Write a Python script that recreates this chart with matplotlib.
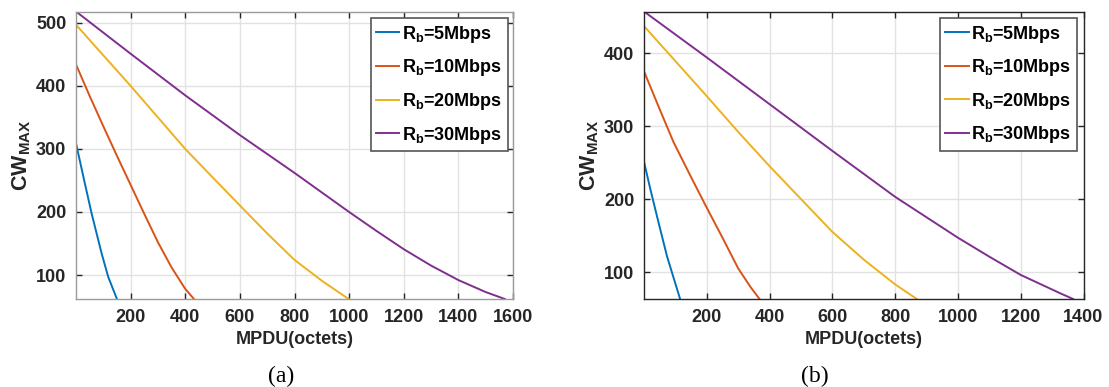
import numpy as np
import matplotlib.pyplot as plt

plt.rcParams['font.family'] = 'Liberation Sans'
plt.rcParams['font.weight'] = 'bold'
plt.rcParams['mathtext.fontset'] = 'custom'
plt.rcParams['mathtext.rm'] = 'Liberation Sans:bold'
plt.rcParams['mathtext.it'] = 'Liberation Sans:bold'
plt.rcParams['mathtext.bf'] = 'Liberation Sans:bold'

labels = [r'$\mathrm{R_b}$=5Mbps', r'$\mathrm{R_b}$=10Mbps',
          r'$\mathrm{R_b}$=20Mbps', r'$\mathrm{R_b}$=30Mbps']
colors = ['#0072BD', '#D95319', '#EDB120', '#7E2F8E']

# (a) values
a5_x = [0, 30, 57, 94, 118, 149]
a5_y = [309, 250, 198, 134, 97, 63]
a10_x = [0, 50, 100, 150, 200, 250, 300, 350, 400, 432]
a10_y = [434, 384, 336, 289, 243, 197, 152, 112, 78, 62]
a20_x = [0, 200, 400, 500, 639, 700, 800, 900, 998]
a20_y = [497, 400, 300, 255, 193, 166, 124, 91, 62]
a30_x = [0, 200, 400, 600, 800, 1000, 1100, 1200, 1300, 1400, 1500, 1570]
a30_y = [518, 451, 385, 322, 262, 200, 170, 141, 115, 92, 73, 62]

# (b) values
b5_x = [0, 20, 41, 73, 95, 115]
b5_y = [251, 214, 177, 122, 91, 63]
b10_x = [0, 50, 94, 150, 200, 250, 300, 340, 368]
b10_y = [375, 323, 278, 230, 188, 147, 105, 79, 63]
b20_x = [0, 200, 300, 400, 500, 600, 700, 800, 869]
b20_y = [437, 341, 292, 245, 200, 155, 117, 83, 63]
b30_x = [0, 200, 400, 600, 800, 900, 1000, 1100, 1200, 1325, 1367]
b30_y = [457, 394, 330, 266, 203, 175, 147, 121, 96, 71, 63]

fig = plt.figure(figsize=(11.09, 3.87), dpi=100)
ax1 = fig.add_axes([76/1109, 88/387, 437/1109, 287.5/387])
ax2 = fig.add_axes([644/1109, 88/387, 439.5/1109, 287.5/387])

panels = [
    (ax1, [(a5_x, a5_y), (a10_x, a10_y), (a20_x, a20_y), (a30_x, a30_y)],
     1600, range(200, 1601, 200), range(100, 501, 100), '#9a9a9a', (0.988, 0.976)),
    (ax2, [(b5_x, b5_y), (b10_x, b10_y), (b20_x, b20_y), (b30_x, b30_y)],
     1400, range(200, 1401, 200), range(100, 401, 100), '#262626', (0.985, 0.977)),
]

for ax, series, xmax, xt, yt, spc, anchor in panels:
    for (x, y), c, lab in zip(series, colors, labels):
        ax.plot(x, y, color=c, lw=1.4, label=lab)
    ally = np.concatenate([s[1] for s in series])
    ax.set_xlim(0, xmax)
    ax.set_ylim(ally.min(), ally.max())
    ax.set_xticks(list(xt))
    ax.set_yticks(list(yt))
    ax.grid(True, color='#e2e2e2', lw=1)
    ax.set_axisbelow(True)
    ax.tick_params(direction='in', top=True, right=True, length=4, width=1,
                   color='#262626', labelsize=13, labelcolor='#262626', pad=7)
    for t in ax.get_xticklabels() + ax.get_yticklabels():
        t.set_fontweight('bold')
    for s in ax.spines.values():
        s.set_color(spc)
        s.set_linewidth(1)
    ax.set_xlabel('MPDU(octets)', fontsize=13, fontweight='bold',
                  color='#262626', labelpad=4)
    ax.set_ylabel(r'CW$\mathrm{_{MAX}}$', fontsize=15.5, fontweight='bold',
                  color='#262626', labelpad=2)
    leg = ax.legend(loc='upper right', bbox_to_anchor=anchor, borderaxespad=0,
                    prop={'size': 13, 'weight': 'bold'}, handlelength=1.3,
                    handletextpad=0.15, labelspacing=0.7, borderpad=0.3,
                    fancybox=False, framealpha=1)
    leg.get_frame().set_edgecolor('#555555')
    leg.get_frame().set_linewidth(1.2)

fig.text(281/1109, 1 - 376/387, '(a)', ha='center', va='center',
         family='Liberation Serif', fontweight='normal', fontsize=17)
fig.text(815/1109, 1 - 376/387, '(b)', ha='center', va='center',
         family='Liberation Serif', fontweight='normal', fontsize=17)

fig.savefig('out.png', dpi=100)
